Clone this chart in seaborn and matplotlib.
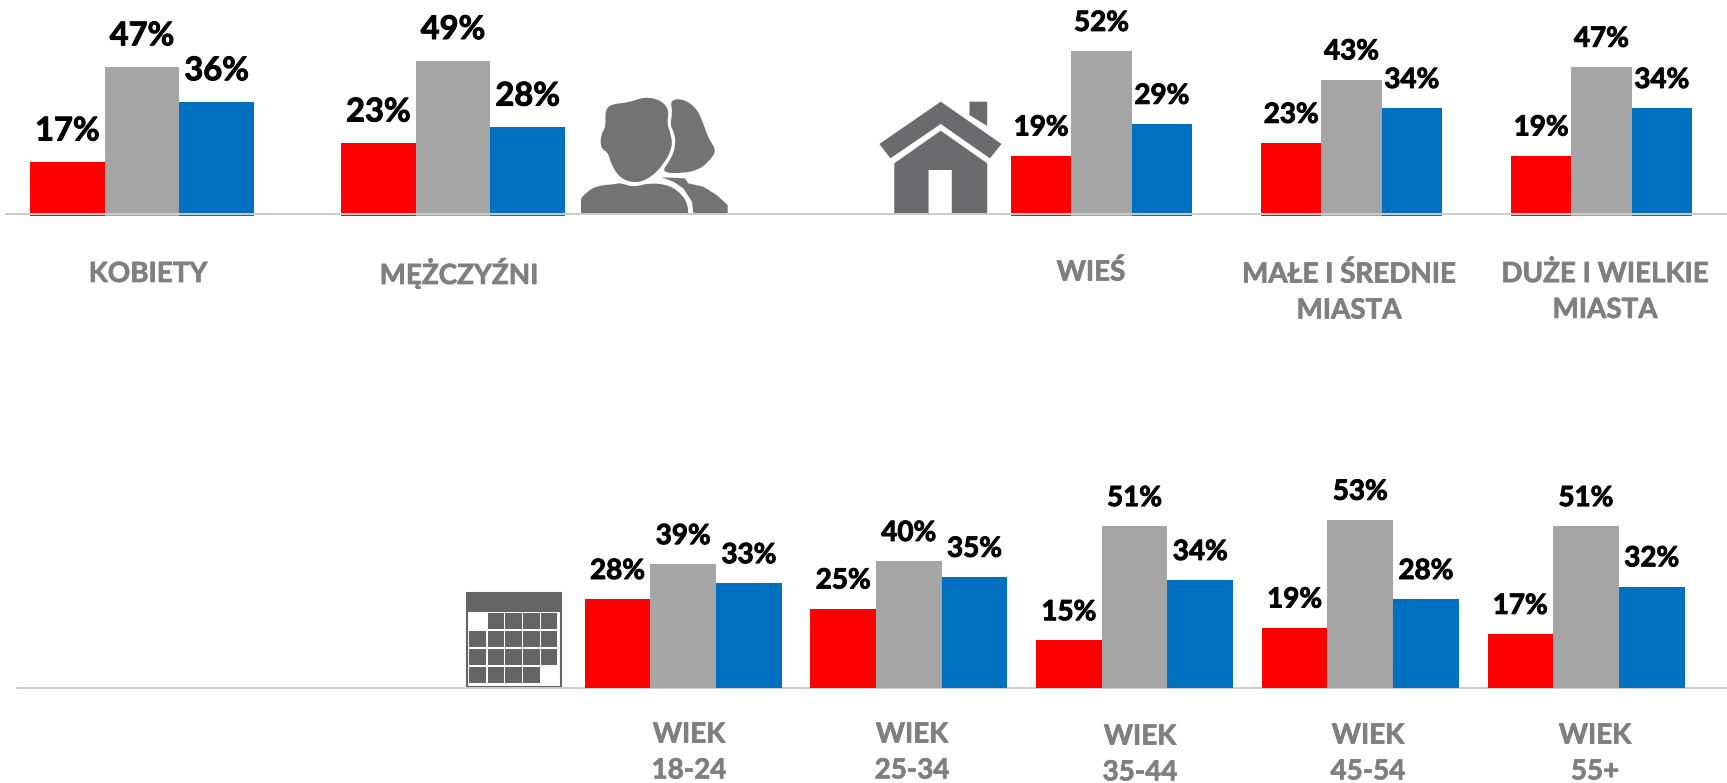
import matplotlib
matplotlib.use("Agg")
import matplotlib.pyplot as plt
import matplotlib.patheffects as pe
import pandas as pd
import seaborn as sns
from matplotlib.patches import Polygon, Rectangle, PathPatch
from matplotlib.path import Path

# ---- data ----
series = ["Negatywnie", "Neutralnie", "Pozytywnie"]
gender_cats = ["KOBIETY", "MĘŻCZYŹNI"]
gender_red = [17, 23]
gender_gray = [47, 49]
gender_blue = [36, 28]

place_cats = ["WIEŚ", "MAŁE I ŚREDNIE\nMIASTA", "DUŻE I WIELKIE\nMIASTA"]
place_red = [19, 23, 19]
place_gray = [52, 43, 47]
place_blue = [29, 34, 34]

age_cats = ["WIEK\n18-24", "WIEK\n25-34", "WIEK\n35-44", "WIEK\n45-54", "WIEK\n55+"]
age_red = [28, 25, 15, 19, 17]
age_gray = [39, 40, 51, 53, 51]
age_blue = [33, 35, 34, 28, 32]

palette = ["#FF0000", "#A5A5A5", "#0070C0"]
W, H = 1727, 783
PX_PER_PCT = 3.17

sns.set_theme(style="white")
plt.rcParams["font.family"] = ["Lato", "DejaVu Sans"]
fig = plt.figure(figsize=(W / 100, H / 100), dpi=100, facecolor="white")


def tidy(cats, red, gray, blue):
    rows = []
    for name, vals in zip(series, (red, gray, blue)):
        rows += [{"cat": c, "series": name, "val": v} for c, v in zip(cats, vals)]
    return pd.DataFrame(rows)


def panel(cats, red, gray, blue, left, right, base, top, first_c, spacing, group_w,
          font, pad, line_lift, line_z):
    ax = fig.add_axes([left / W, 1 - base / H, (right - left) / W, (base - top) / H])
    ax.patch.set_alpha(0)
    sns.barplot(data=tidy(cats, red, gray, blue), x="cat", y="val", hue="series",
                order=cats, hue_order=series, palette=palette, saturation=1,
                width=group_w / spacing, gap=0, legend=False, linewidth=0, ax=ax)
    ax.set_xlim((left - first_c) / spacing, (right - first_c) / spacing)
    ax.set_ylim(0, (base - top) / PX_PER_PCT)
    ax.axis("off")
    for cont in ax.containers:
        labels = ax.bar_label(cont, fmt="%g%%", fontsize=font, fontweight="bold",
                              color="black", padding=pad, clip_on=False)
        for t in labels:
            t.set_path_effects([pe.withStroke(linewidth=0.7, foreground="black")])
    ax.axhline(line_lift / PX_PER_PCT, color="#CBCBCB", lw=1.4, zorder=line_z, clip_on=False)
    return ax


panel(gender_cats, gender_red, gender_gray, gender_blue, 6, 880, 216, 0, 142, 311, 224,
      23.5, 12, 2.2, 5)
panel(place_cats, place_red, place_gray, place_blue, 880, 1727, 216, 0, 1101.5, 250, 181,
      20, 11, 2.2, 5)
panel(age_cats, age_red, age_gray, age_blue, 17, 1727, 688, 480, 683.2, 225.7, 197,
      20, 11, 0, 0.5)

# ---- overlay in pixel space: category captions and icons ----
ov = fig.add_axes([0, 0, 1, 1], zorder=-1)
ov.set_xlim(0, W)
ov.set_ylim(H, 0)
ov.axis("off")

gray_txt = "#7F7F7F"
caption_xy = [(148, 274), (459, 273), (1091, 272), (1349, 292), (1605, 292),
              (689, 752.5), (912, 752.5), (1140, 754.5), (1368, 753.5), (1595, 753.5)]
for text, (x, y) in zip(gender_cats + place_cats + age_cats, caption_xy):
    cap = ov.text(x, y, text, ha="center", va="center", fontsize=20, fontweight="bold",
                  color=gray_txt, linespacing=1.47)
    cap.set_path_effects([pe.withStroke(linewidth=0.5, foreground=gray_txt)])


def smooth(points, color, tx, ty, clip=None):
    pts = [(tx(x), ty(y)) for x, y in points]
    n = len(pts)
    mid = lambda a, b: ((a[0] + b[0]) / 2, (a[1] + b[1]) / 2)
    verts = [mid(pts[-1], pts[0])]
    codes = [Path.MOVETO]
    for i in range(n):
        verts += [pts[i], mid(pts[i], pts[(i + 1) % n])]
        codes += [Path.CURVE3, Path.CURVE3]
    patch = PathPatch(Path(verts, codes), fc=color, ec="none")
    ov.add_patch(patch)
    if clip is not None:
        patch.set_clip_path(Rectangle(clip[:2], clip[2], clip[3], transform=ov.transData))


# people icon
px = lambda z: 570 + z / 3
py = lambda z: 80 + z / 3
person = "#737373"
smooth([(105, 90), (125, 72), (175, 68), (225, 50), (272, 60), (298, 90), (290, 130),
        (302, 160), (308, 200), (282, 252), (240, 295), (195, 310), (150, 295), (122, 250),
        (115, 218), (92, 205), (92, 165), (108, 140)], person, px, py)
smooth([(300, 60), (340, 56), (380, 85), (398, 125), (415, 175), (440, 212), (420, 240),
        (390, 268), (340, 280), (272, 278), (302, 240), (318, 195), (312, 155), (300, 135),
        (308, 95)], person, px, py)
smooth([(20, 460), (25, 365), (50, 335), (85, 316), (135, 313), (150, 308),
        (190, 322), (240, 308), (300, 316), (338, 345), (356, 380), (358, 460)],
       person, px, py, clip=(px(33), py(300), px(355) - px(33), py(401) - py(300)))
ov.add_patch(Polygon([(px(a), py(b)) for a, b in
                      [(275, 292), (345, 295), (355, 310), (400, 320), (440, 345), (473, 375),
                       (473, 401), (370, 401), (366, 365), (340, 325), (310, 305)]],
                     fc=person, ec="none"))

# house icon
hx = lambda z: 860 + z * 867 / 1568
hy = lambda z: z / 3
house = "#6B6B6D"
for shape in ([(146, 305), (35, 432), (55, 475), (146, 372), (235, 475), (256, 432)],
              [(198, 305), (230, 305), (230, 378), (198, 345)],
              [(146, 392), (62, 490), (62, 641), (124, 641), (124, 510), (166, 510),
               (166, 641), (230, 641), (230, 490)]):
    ov.add_patch(Polygon([(hx(a), hy(b)) for a, b in shape], fc=house, ec="none"))

# calendar icon
cx = lambda z: 440 + z * 600 / 1568
cy = lambda z: 470 + z / 3
cal = "#656565"
ov.add_patch(Rectangle((cx(71), cy(369)), cx(316) - cx(71), cy(651) - cy(369),
                       fc="white", ec=cal, lw=1.5))
ov.add_patch(Rectangle((cx(71), cy(369)), cx(316) - cx(71), cy(425) - cy(369), fc=cal, ec="none"))
for r, row_y in enumerate([430, 484, 537, 590]):
    for c, col_x in enumerate([77, 125, 171, 218, 264]):
        if (r, c) in ((0, 0), (3, 4)):
            continue
        ov.add_patch(Rectangle((cx(col_x), cy(row_y)), cx(col_x + 43) - cx(col_x),
                               cy(row_y + 48) - cy(row_y), fc=cal, ec="none"))

fig.savefig("out.png", dpi=100, facecolor="white")
